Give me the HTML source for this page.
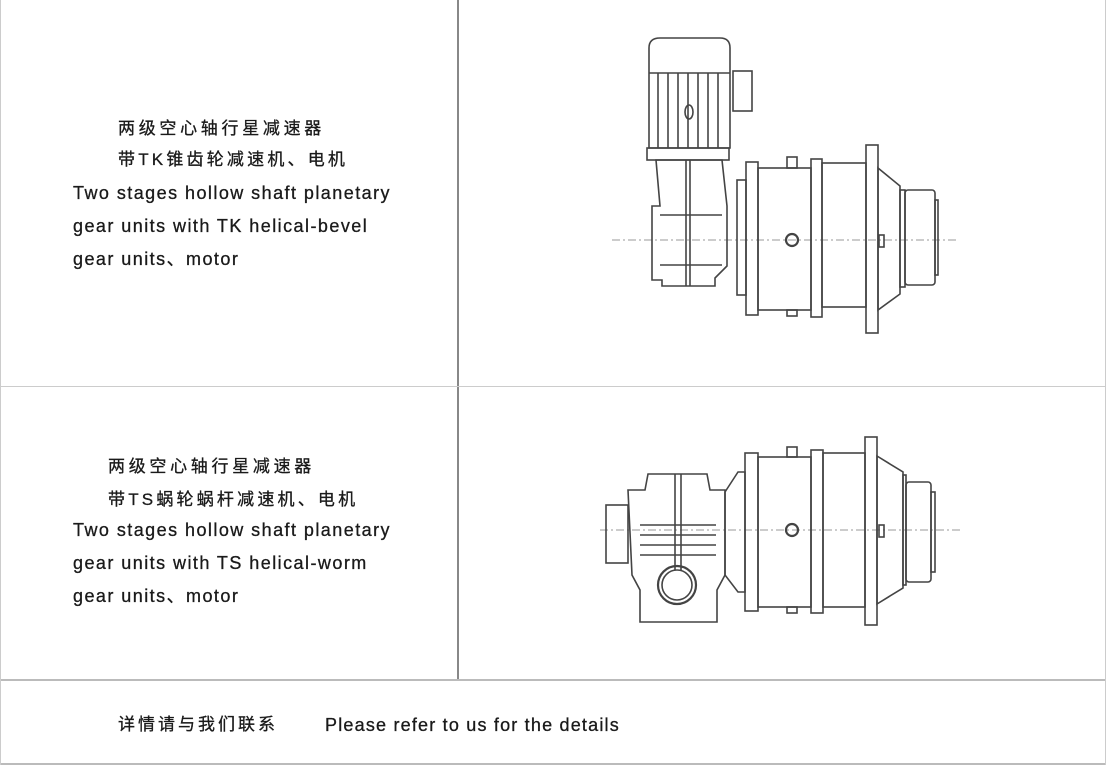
<!DOCTYPE html>
<html><head><meta charset="utf-8"><style>
html,body{margin:0;padding:0;background:#fff;}
body{width:1112px;height:767px;position:relative;overflow:hidden;font-family:"Liberation Sans","Noto Sans CJK SC",sans-serif;color:#1a1a1a;}
.t{position:absolute;font-size:18px;white-space:nowrap;line-height:20px;letter-spacing:1.45px;-webkit-text-stroke:0.3px #1a1a1a;}
.c{font-size:17px;letter-spacing:3.7px;}
</style></head><body>
<div style="position:absolute;left:457px;top:0;width:2px;height:680px;background:#888"></div>
<div style="position:absolute;left:0;top:386px;width:1106px;height:1px;background:#ccc"></div>
<div style="position:absolute;left:0;top:679px;width:1106px;height:2px;background:#bbb"></div>
<div style="position:absolute;left:0;top:763px;width:1106px;height:2px;background:#bbb"></div>
<div style="position:absolute;left:0;top:0;width:1px;height:765px;background:#ccc"></div>
<div style="position:absolute;left:1105px;top:0;width:1px;height:765px;background:#ccc"></div>

<div class="t c" style="left:118px;top:119px">两级空心轴行星减速器</div>
<div class="t c" style="left:118px;top:150px;letter-spacing:3.2px">带TK锥齿轮减速机、电机</div>
<div class="t" style="left:73px;top:183px">Two stages hollow shaft planetary</div>
<div class="t" style="left:73px;top:216px">gear units with TK helical-bevel</div>
<div class="t" style="left:73px;top:249px">gear units、motor</div>

<div class="t c" style="left:108px;top:457px">两级空心轴行星减速器</div>
<div class="t c" style="left:108px;top:490px;letter-spacing:3.2px">带TS蜗轮蜗杆减速机、电机</div>
<div class="t" style="left:73px;top:520px">Two stages hollow shaft planetary</div>
<div class="t" style="left:73px;top:553px">gear units with TS helical-worm</div>
<div class="t" style="left:73px;top:586px">gear units、motor</div>

<div class="t c" style="left:118px;top:715px;letter-spacing:3px">详情请与我们联系</div>
<div class="t" style="left:325px;top:715px;letter-spacing:1.2px">Please refer to us for the details</div>

<svg width="1112" height="767" style="position:absolute;left:0;top:0" fill="none" stroke="#444" stroke-width="1.6">
<g>
<line x1="612" y1="240" x2="958" y2="240" stroke="#999" stroke-dasharray="8,3,2,3" stroke-width="1"/>
<path d="M649 148 V48 Q649 38 660 38 H720 Q730 38 730 48 V148 Z"/>
<line x1="649" y1="73" x2="730" y2="73"/>
<line x1="658" y1="73" x2="658" y2="148"/><line x1="668" y1="73" x2="668" y2="148"/><line x1="678" y1="73" x2="678" y2="148"/><line x1="688" y1="73" x2="688" y2="148"/><line x1="698" y1="73" x2="698" y2="148"/><line x1="708" y1="73" x2="708" y2="148"/><line x1="718" y1="73" x2="718" y2="148"/>
<ellipse cx="689" cy="112" rx="4" ry="7"/>
<rect x="733" y="71" width="19" height="40"/>
<rect x="647" y="148" width="82" height="12"/>
<path d="M656 160 L660 206 L652 206 L652 280 L662 280 L662 286 L715 286 L715 278 L727 266 L727 206 L722 160 Z"/>
<line x1="686" y1="160" x2="686" y2="286"/><line x1="690" y1="160" x2="690" y2="286"/>
<line x1="660" y1="215" x2="722" y2="215"/><line x1="660" y1="265" x2="722" y2="265"/>
<rect x="737" y="180" width="9" height="115"/>
<rect x="746" y="162" width="12" height="153"/>
<rect x="758" y="168" width="53" height="142"/>
<rect x="787" y="157" width="10" height="11"/>
<rect x="787" y="310" width="10" height="6"/>
<rect x="811" y="159" width="11" height="158"/>
<rect x="822" y="163" width="44" height="144"/>
<rect x="866" y="145" width="12" height="188"/>
<path d="M878 168 L900 186 V294 L878 310 Z"/>
<rect x="900" y="190" width="5" height="97"/>
<rect x="905" y="190" width="30" height="95" rx="3"/>
<rect x="935" y="200" width="3" height="75"/>
<rect x="879" y="235" width="5" height="12"/>
<circle cx="792" cy="240" r="6" stroke-width="2.2"/>
</g>
<g>
<line x1="600" y1="530" x2="960" y2="530" stroke="#999" stroke-dasharray="8,3,2,3" stroke-width="1"/>
<rect x="606" y="505" width="22" height="58"/>
<path d="M628 490 H645 L648 474 H707 L710 490 H725 V575 L717 590 V622 H640 V590 L632 575 Z"/>
<line x1="675" y1="474" x2="675" y2="570"/><line x1="681" y1="474" x2="681" y2="570"/>
<line x1="640" y1="525" x2="716" y2="525"/><line x1="640" y1="535" x2="716" y2="535"/><line x1="640" y1="545" x2="716" y2="545"/><line x1="640" y1="555" x2="716" y2="555"/>
<circle cx="677" cy="585" r="19" stroke-width="2.2"/><circle cx="677" cy="585" r="15"/>
<path d="M725 492 L738 472 H745 V592 H738 L725 575 Z"/>
<rect x="745" y="453" width="13" height="158"/>
<rect x="758" y="457" width="53" height="150"/>
<rect x="787" y="447" width="10" height="10"/>
<rect x="787" y="607" width="10" height="6"/>
<rect x="811" y="450" width="12" height="163"/>
<rect x="823" y="453" width="42" height="154"/>
<rect x="865" y="437" width="12" height="188"/>
<path d="M877 456 L903 472 V588 L877 604 Z"/>
<rect x="903" y="475" width="3" height="110"/>
<rect x="906" y="482" width="25" height="100" rx="3"/>
<rect x="931" y="492" width="4" height="80"/>
<rect x="879" y="525" width="5" height="12"/>
<circle cx="792" cy="530" r="6" stroke-width="2.2"/>
</g>
</svg>
</body></html>
